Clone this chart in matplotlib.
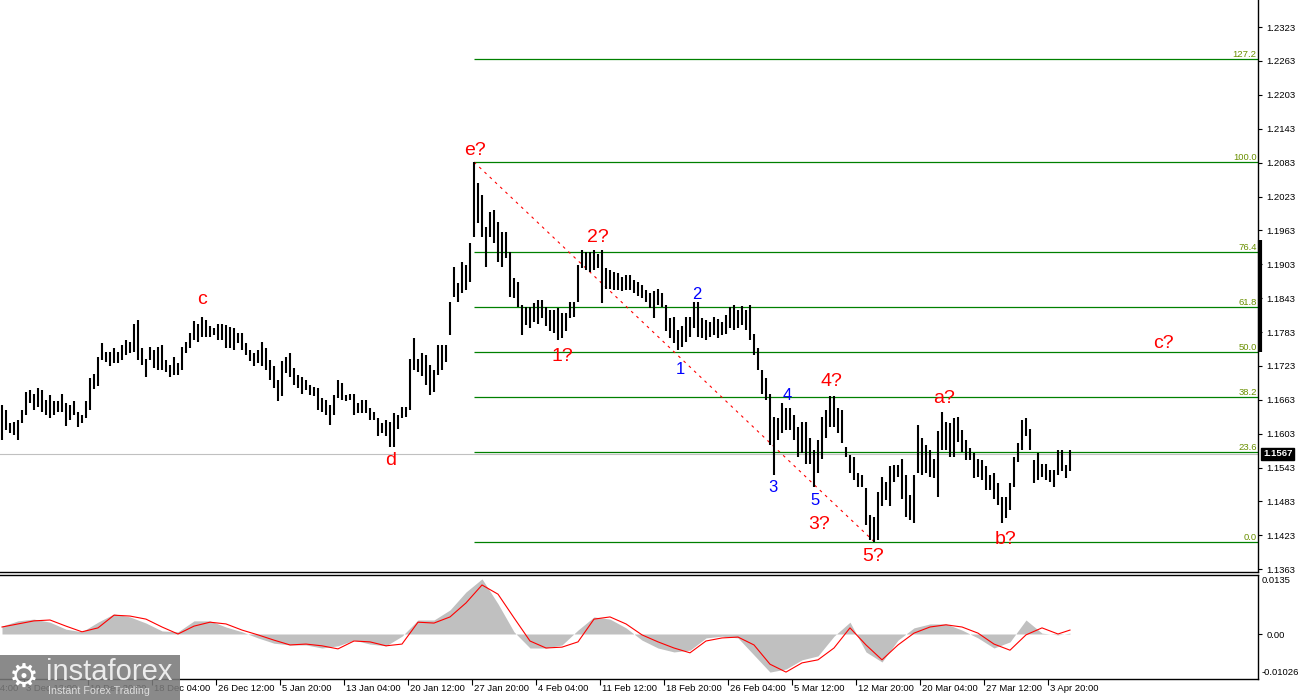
import numpy as np
import matplotlib.pyplot as plt
import matplotlib.transforms as mtransforms
from matplotlib.patches import Rectangle

plt.rcParams['font.family'] = ['Liberation Sans', 'DejaVu Sans']

# bar highs / lows (one bar per slot)
highs = [
    1.1654, 1.1645, 1.1621, 1.1624, 1.1627, 1.1645, 1.1677, 1.1680, 1.1674, 1.1683,
    1.1680, 1.1663, 1.1672, 1.1660, 1.1660, 1.1674, 1.1657, 1.1654, 1.1660, 1.1642,
    1.1636, 1.1660, 1.1701, 1.1709, 1.1738, 1.1763, 1.1748, 1.1748, 1.1754, 1.1748,
    1.1760, 1.1769, 1.1766, 1.1798, 1.1805, 1.1754, 1.1736, 1.1757, 1.1751, 1.1757,
    1.1760, 1.1733, 1.1725, 1.1739, 1.1728, 1.1757, 1.1766, 1.1781, 1.1803, 1.1798,
    1.1810, 1.1804, 1.1793, 1.1790, 1.1798,
    1.1798, 1.1795, 1.1792, 1.1790, 1.1781, 1.1781, 1.1763, 1.1751, 1.1745, 1.1751,
    1.1766, 1.1754, 1.1733, 1.1722, 1.1698, 1.1731, 1.1739, 1.1745, 1.1719, 1.1707,
    1.1704, 1.1698, 1.1689, 1.1686, 1.1683, 1.1666, 1.1663, 1.1654, 1.1671, 1.1698,
    1.1692, 1.1671, 1.1674, 1.1674, 1.1657, 1.1663, 1.1663, 1.1648, 1.1642, 1.1630,
    1.1621, 1.1627, 1.1624, 1.1639, 1.1636, 1.1651, 1.1651, 1.1736, 1.1772, 1.1736,
    1.1745, 1.1742, 1.1725, 1.1716, 1.1760, 1.1760, 1.1760, 1.1836, 1.1898, 1.1870,
    1.1907, 1.1902, 1.1941, 1.2084, 1.2047, 1.2026, 1.1969, 1.1996, 1.1999, 1.1978,
    1.1960, 1.1960, 1.1925, 1.1879, 1.1872,
    1.1831, 1.1828, 1.1828, 1.1834, 1.1840, 1.1840, 1.1828, 1.1822, 1.1822, 1.1825,
    1.1816, 1.1816, 1.1837, 1.1837, 1.1902, 1.1928, 1.1925, 1.1925, 1.1928, 1.1922,
    1.1928, 1.1896, 1.1893, 1.1890, 1.1887, 1.1881, 1.1884, 1.1884, 1.1875, 1.1872,
    1.1866, 1.1857, 1.1852, 1.1855, 1.1860, 1.1852, 1.1831, 1.1807, 1.1810, 1.1787,
    1.1793, 1.1810, 1.1810, 1.1837, 1.1837,
    1.1808, 1.1804, 1.1800, 1.1810, 1.1806, 1.1800, 1.1813, 1.1827, 1.1831, 1.1822,
    1.1829, 1.1822, 1.1831, 1.1780, 1.1755,
    1.1716, 1.1701, 1.1674, 1.1633, 1.1630, 1.1657, 1.1648, 1.1648, 1.1636, 1.1615,
    1.1624, 1.1624, 1.1595, 1.1574, 1.1592, 1.1633, 1.1645, 1.1669, 1.1669, 1.1648,
    1.1645, 1.1580, 1.1565, 1.1562, 1.1533, 1.1530, 1.1506, 1.1459, 1.1456, 1.1500,
    1.1527, 1.1518, 1.1545, 1.1547, 1.1547, 1.1559, 1.1530, 1.1494, 1.1530, 1.1618,
    1.1595, 1.1583, 1.1574, 1.1559, 1.1607, 1.1642, 1.1624, 1.1621, 1.1630, 1.1633,
    1.1610, 1.1592, 1.1577, 1.1568, 1.1559, 1.1556, 1.1545, 1.1530, 1.1533, 1.1515,
    1.1491, 1.1491, 1.1515, 1.1562, 1.1586, 1.1627, 1.1630, 1.1612, 1.1556, 1.1568,
    1.1550, 1.1550, 1.1539, 1.1539, 1.1574, 1.1574, 1.1547, 1.1574,
]
lows = [
    1.1592, 1.1610, 1.1604, 1.1601, 1.1592, 1.1621, 1.1636, 1.1657, 1.1645, 1.1651,
    1.1642, 1.1636, 1.1630, 1.1636, 1.1642, 1.1642, 1.1617, 1.1627, 1.1636, 1.1615,
    1.1621, 1.1630, 1.1645, 1.1682, 1.1688, 1.1733, 1.1730, 1.1722, 1.1728, 1.1728,
    1.1733, 1.1742, 1.1745, 1.1748, 1.1733, 1.1725, 1.1704, 1.1733, 1.1719, 1.1716,
    1.1716, 1.1713, 1.1704, 1.1707, 1.1707, 1.1716, 1.1745, 1.1754, 1.1769, 1.1766,
    1.1775, 1.1775, 1.1775, 1.1778, 1.1769,
    1.1769, 1.1754, 1.1754, 1.1751, 1.1763, 1.1751, 1.1742, 1.1731, 1.1722, 1.1728,
    1.1722, 1.1716, 1.1698, 1.1683, 1.1660, 1.1669, 1.1710, 1.1704, 1.1689, 1.1683,
    1.1674, 1.1680, 1.1671, 1.1669, 1.1645, 1.1642, 1.1636, 1.1618, 1.1636, 1.1666,
    1.1663, 1.1660, 1.1663, 1.1636, 1.1639, 1.1639, 1.1639, 1.1627, 1.1627, 1.1598,
    1.1604, 1.1598, 1.1580, 1.1580, 1.1612, 1.1630, 1.1633, 1.1645, 1.1716, 1.1713,
    1.1705, 1.1689, 1.1671, 1.1677, 1.1707, 1.1716, 1.1730, 1.1778, 1.1845, 1.1836,
    1.1852, 1.1857, 1.1872, 1.1951, 1.1976, 1.1951, 1.1898, 1.1951, 1.1941, 1.1907,
    1.1898, 1.1914, 1.1845, 1.1843, 1.1827,
    1.1778, 1.1796, 1.1790, 1.1801, 1.1798, 1.1807, 1.1793, 1.1784, 1.1781, 1.1769,
    1.1772, 1.1784, 1.1807, 1.1810, 1.1837, 1.1896, 1.1893, 1.1890, 1.1893, 1.1896,
    1.1834, 1.1860, 1.1860, 1.1857, 1.1857, 1.1855, 1.1857, 1.1857, 1.1852, 1.1846,
    1.1843, 1.1837, 1.1825, 1.1807, 1.1831, 1.1828, 1.1784, 1.1772, 1.1763, 1.1751,
    1.1757, 1.1766, 1.1775, 1.1790, 1.1775,
    1.1772, 1.1769, 1.1775, 1.1778, 1.1772, 1.1778, 1.1780, 1.1790, 1.1787, 1.1790,
    1.1795, 1.1787, 1.1769, 1.1742, 1.1716,
    1.1674, 1.1663, 1.1583, 1.1530, 1.1592, 1.1604, 1.1610, 1.1610, 1.1592, 1.1562,
    1.1568, 1.1550, 1.1550, 1.1509, 1.1533, 1.1559, 1.1595, 1.1615, 1.1615, 1.1604,
    1.1586, 1.1562, 1.1533, 1.1521, 1.1509, 1.1509, 1.1441, 1.1415, 1.1412, 1.1415,
    1.1474, 1.1485, 1.1474, 1.1518, 1.1527, 1.1488, 1.1456, 1.1450, 1.1444, 1.1533,
    1.1530, 1.1533, 1.1527, 1.1524, 1.1491, 1.1574, 1.1574, 1.1562, 1.1562, 1.1589,
    1.1571, 1.1556, 1.1556, 1.1524, 1.1527, 1.1521, 1.1503, 1.1503, 1.1488, 1.1477,
    1.1444, 1.1453, 1.1468, 1.1509, 1.1553, 1.1574, 1.1598, 1.1574, 1.1515, 1.1521,
    1.1527, 1.1521, 1.1518, 1.1509, 1.1530, 1.1536, 1.1524, 1.1536,
]
last_price = 1.1567

price_ticks = [1.2323, 1.2263, 1.2203, 1.2143, 1.2083, 1.2023, 1.1963, 1.1903, 1.1843,
               1.1783, 1.1723, 1.1663, 1.1603, 1.1543, 1.1483, 1.1423, 1.1363]

fib_ratios = [0.0, 23.6, 38.2, 50.0, 61.8, 76.4, 100.0, 127.2]

date_labels = ['26 Nov 04:00', '3 Dec 12:00', '10 Dec 20:00', '18 Dec 04:00', '26 Dec 12:00',
               '5 Jan 20:00', '13 Jan 04:00', '20 Jan 12:00', '27 Jan 20:00', '4 Feb 04:00',
               '11 Feb 12:00', '18 Feb 20:00', '26 Feb 04:00', '5 Mar 12:00', '12 Mar 20:00',
               '20 Mar 04:00', '27 Mar 12:00', '3 Apr 20:00']
date_bars = [-10.5, 5.5, 21.5, 37.5, 53.5, 69.5, 85.5, 101.5, 117.5, 133.5,
             149.5, 165.5, 181.5, 197.5, 213.5, 229.5, 245.5, 261.5]

# oscillator, sampled every 4th bar
macd_bars = list(range(0, 265, 4)) + [267]
macd_hist = [
    0.0018, 0.0030, 0.0034, 0.0027, 0.0011, 0.0005, 0.0027, 0.0046, 0.0039, 0.0025,
    0.0007, 0.0005, 0.0030, 0.0030, 0.0016, 0.0005, -0.0009, -0.0021, -0.0025, -0.0025,
    -0.0032, -0.0027, -0.0014, -0.0023, -0.0027, -0.0005, 0.0032, 0.0032, 0.0055, 0.0096,
    0.0126, 0.0069, 0.0005, -0.0032, -0.0032, -0.0025, 0.0009, 0.0039, 0.0034, 0.0014,
    -0.0014, -0.0032, -0.0041, -0.0037, -0.0009, -0.0005, -0.0009, -0.0048, -0.0087, -0.0080,
    -0.0059, -0.0050, -0.0005, 0.0027, -0.0041, -0.0064, -0.0014, 0.0014, 0.0023, 0.0023,
    0.0009, -0.0009, -0.0032, -0.0018, 0.0032, 0.0002, -0.0002, 0.0002,
]
macd_signal = [
    0.0016, 0.0023, 0.0030, 0.0032, 0.0018, 0.0005, 0.0014, 0.0043, 0.0041, 0.0034,
    0.0016, 0.0000, 0.0018, 0.0027, 0.0023, 0.0009, -0.0002, -0.0014, -0.0025, -0.0023,
    -0.0027, -0.0034, -0.0016, -0.0018, -0.0027, -0.0023, 0.0027, 0.0025, 0.0039, 0.0071,
    0.0112, 0.0091, 0.0037, -0.0016, -0.0032, -0.0030, -0.0018, 0.0034, 0.0039, 0.0023,
    -0.0002, -0.0018, -0.0032, -0.0043, -0.0016, -0.0009, -0.0007, -0.0025, -0.0069, -0.0087,
    -0.0066, -0.0059, -0.0032, 0.0014, -0.0025, -0.0059, -0.0025, 0.0002, 0.0016, 0.0021,
    0.0016, 0.0002, -0.0023, -0.0037, -0.0002, 0.0014, 0.0000, 0.0009,
]
macd_max, macd_min = 0.0135, -0.01026

# wave marks: (text, bar, price)
wave_red = [('e?', 118.25, 1.2104), ('2?', 149.0, 1.1950), ('1?', 140.0, 1.1739),
            ('c', 50.0, 1.1840), ('d', 97.25, 1.1555), ('3?', 204.25, 1.1443),
            ('5?', 217.75, 1.1385), ('4?', 207.25, 1.1695), ('a?', 235.5, 1.1666),
            ('b?', 251.0, 1.1416), ('c?', 290.25, 1.1762)]
wave_blue = [('1', 169.5, 1.1716), ('2', 173.75, 1.1850), ('3', 192.75, 1.1507),
             ('4', 196.25, 1.1671), ('5', 203.25, 1.1484)]

FIB_GREEN = '#008000'
FIB_TEXT = '#6a9000'
FS = 6.8

fig = plt.figure(figsize=(13, 7), dpi=100)
ax = fig.add_axes([0, 128 / 700, 1258 / 1300, 572 / 700])
axm = fig.add_axes([0, 21 / 700, 1258 / 1300, 104 / 700], sharex=ax)

x = np.arange(len(highs))
ax.vlines(x, lows, highs, color='black', lw=1.5, zorder=3)

ax.set_xlim(-0.5, 314)
ax.set_ylim(1.1358, 1.2371)

# bid line
ax.axhline(last_price, color='#c0c0c0', lw=0.8, zorder=1)

# fibonacci from the e? top to the 5? bottom
i_hi = int(np.argmax(highs))
i_lo = int(np.argmin(lows))
hi, lo = highs[i_hi], lows[i_lo]
xr = ax.get_xlim()[1]
for r in fib_ratios:
    lvl = lo + (hi - lo) * r / 100.0
    ax.hlines(lvl, i_hi, xr, color=FIB_GREEN, lw=0.9, zorder=2)
    ax.text(0.999, lvl, f'{r:.1f}', transform=mtransforms.blended_transform_factory(ax.transAxes, ax.transData),
            ha='right', va='bottom', fontsize=FS, color=FIB_TEXT)
ax.plot([i_hi, i_lo], [hi, lo], color='red', lw=0.8, ls=(0, (2.5, 4)), zorder=2)

for s, b, p in wave_red:
    ax.text(b, p, s, color='red', fontsize=14, ha='center', va='center', zorder=4)
for s, b, p in wave_blue:
    ax.text(b, p, s, color='blue', fontsize=12, ha='center', va='center', zorder=4)

for sp in ['top', 'left']:
    ax.spines[sp].set_visible(False)
for sp in ['right', 'bottom']:
    ax.spines[sp].set_linewidth(1.0)
ax.yaxis.tick_right()
ax.set_yticks(price_ticks)
ax.set_yticklabels([f'{p:.4f}' for p in price_ticks])
ax.tick_params(axis='y', direction='out', length=3, width=0.8, pad=3, labelsize=FS)
ax.tick_params(axis='x', bottom=False, labelbottom=False)

btr = mtransforms.blended_transform_factory(ax.transAxes, ax.transData)
ax.text(1.0 + 5 / 1258, last_price, f'{last_price:.4f}', transform=btr, ha='left', va='center',
        color='white', fontsize=FS, fontweight='bold', zorder=6,
        bbox=dict(boxstyle='square,pad=0.2', fc='black', ec='black'))
ax.plot([1.0015, 1.0015], [1.1946, 1.1748], transform=btr, color='black', lw=3,
        solid_capstyle='butt', clip_on=False)

# oscillator panel
axm.fill_between(macd_bars, 0, macd_hist, color='#c0c0c0', lw=0)
axm.plot(macd_bars, macd_signal, color='red', lw=0.8)
axm.set_ylim(-0.01028, 0.01348)
axm.spines['left'].set_visible(False)
for sp in ['top', 'right', 'bottom']:
    axm.spines[sp].set_linewidth(1.0)
axm.yaxis.tick_right()
axm.set_yticks([0.0])
axm.set_yticklabels(['0.00'])
axm.tick_params(axis='y', direction='out', length=3, width=0.8, pad=3, labelsize=FS)
axm.text(1.0 + 4 / 1258, 0.995, f'{macd_max}', transform=axm.transAxes, ha='left', va='top', fontsize=FS)
axm.text(1.0 + 4 / 1258, 0.02, f'{macd_min}', transform=axm.transAxes, ha='left', va='bottom', fontsize=FS)

xmin = ax.get_xlim()[0]
axm.set_xticks([b for b in date_bars if b >= xmin])
axm.set_xticklabels([])
axm.tick_params(axis='x', direction='out', length=4, width=0.8)
dtr = mtransforms.blended_transform_factory(axm.transData, axm.transAxes)
for lab, b in zip(date_labels, date_bars):
    axm.text(b + 0.5, -0.05, lab, transform=dtr, ha='left', va='top', fontsize=FS, clip_on=False)

# logo block
fig.add_artist(Rectangle((0, 0), 180 / 1300, 45 / 700, transform=fig.transFigure,
                         fc='#7a7a7a', ec='none', alpha=0.88, zorder=5))
fig.text(24 / 1300, 1 - 677 / 700, '\u2699', family='DejaVu Sans', fontsize=24, color='white',
         ha='center', va='center', zorder=6)
fig.text(46 / 1300, 1 - 672 / 700, 'instaforex', fontsize=21, color='#ececec',
         ha='left', va='center', zorder=6)
fig.text(48 / 1300, 1 - 691 / 700, 'Instant Forex Trading', fontsize=7.7, color='#dcdcdc',
         ha='left', va='center', zorder=6)

fig.savefig('out.png', dpi=100, facecolor='white')
